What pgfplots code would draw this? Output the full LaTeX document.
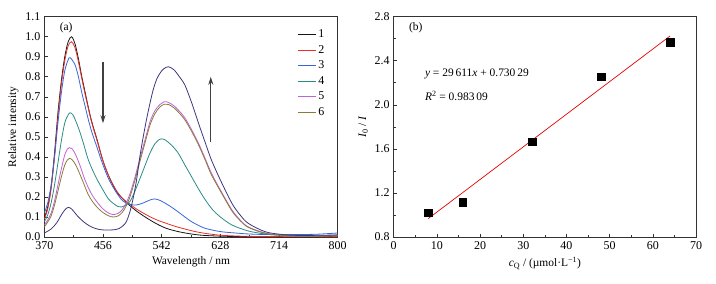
\documentclass[border=0pt]{standalone}
\usepackage{fontspec}
\setmainfont{Liberation Serif}
\usepackage{pgfplots}
\pgfplotsset{compat=1.18}
\usetikzlibrary{arrows.meta}
\definecolor{c1}{RGB}{20,20,20}
\definecolor{c2}{RGB}{235,45,35}
\definecolor{c3}{RGB}{55,100,215}
\definecolor{c4}{RGB}{40,140,135}
\definecolor{c5}{RGB}{195,95,215}
\definecolor{c6}{RGB}{135,125,55}
\definecolor{c7}{RGB}{60,55,125}
\pgfplotsset{
  every axis/.append style={font=\fontsize{11.5}{13}\selectfont},
  myax/.style={
    scale only axis,
    axis line style={black!80, line width=0.8pt},
    tick style={black!80, line width=0.6pt},
    major tick length=3.5pt, minor tick length=2.5pt,
    tick align=inside, tick pos=left,
    /pgf/number format/assume math mode=true,
    ticklabel style={font=\fontsize{12}{14}\selectfont},
    xticklabel style={yshift=-1.5pt},
    yticklabel style={xshift=-0.5pt},
    label style={font=\fontsize{11.5}{13}\selectfont},
  },
}
\begin{document}
\begin{tikzpicture}[x=1bp,y=1bp]
\useasboundingbox (0,0) rectangle (716,283);
\begin{axis}[myax,
  at={(44.3bp,46bp)}, anchor=south west,
  width=293.4bp, height=220.3bp,
  xmin=370, xmax=800, ymin=0, ymax=1.1,
  xtick={370,456,542,628,714,800}, minor x tick num=1,
  ytick={0,0.1,...,1.1},
  yticklabel style={/pgf/number format/.cd, fixed, fixed zerofill, precision=1},
  xlabel={Wavelength / nm}, ylabel={Relative intensity},
  legend style={draw=none, fill=none, at={(axis description cs:0.965,0.955)}, anchor=north east,
     font=\fontsize{12}{14}\selectfont, row sep=2.2pt, inner sep=1pt},
  legend cell align=left,
  legend image code/.code={\draw[#1] (0bp,0bp) -- (18bp,0bp);},
  every axis plot/.append style={line width=0.8pt, smooth, tension=0.5},
  clip=true,
]
\addplot[c1] coordinates {(370,0.095)(375,0.15)(380,0.25)(385,0.42)(390,0.62)(395,0.78)(400,0.90)(405,0.975)(410,1.0)(415,0.965)(420,0.89)(425,0.80)(430,0.72)(435,0.64)(440,0.57)(447,0.49)(456,0.38)(465,0.30)(476,0.225)(485,0.19)(495,0.158)(505,0.13)(520,0.095)(535,0.065)(549,0.043)(565,0.028)(580,0.018)(600,0.009)(630,0.004)(660,0.002)(700,0.001)(760,0.0)(800,0.003)};
\addlegendentry{1}
\addplot[c2] coordinates {(370,0.09)(375,0.14)(380,0.24)(385,0.40)(390,0.60)(395,0.76)(400,0.88)(405,0.955)(410,0.975)(415,0.945)(420,0.875)(425,0.79)(430,0.71)(435,0.635)(440,0.565)(447,0.485)(456,0.38)(465,0.30)(476,0.23)(485,0.192)(495,0.165)(505,0.14)(520,0.11)(535,0.085)(549,0.068)(562,0.053)(576,0.040)(590,0.028)(606,0.018)(628,0.009)(660,0.004)(700,0.002)(760,0.001)(800,0.002)};
\addlegendentry{2}
\addplot[c3] coordinates {(370,0.12)(375,0.17)(380,0.26)(385,0.40)(390,0.57)(395,0.72)(400,0.83)(405,0.885)(408,0.895)(415,0.86)(420,0.80)(425,0.72)(430,0.65)(435,0.58)(440,0.52)(447,0.45)(456,0.36)(465,0.285)(476,0.22)(485,0.18)(495,0.163)(505,0.16)(515,0.17)(525,0.185)(532,0.19)(540,0.182)(549,0.165)(556,0.15)(566,0.126)(576,0.10)(586,0.076)(596,0.058)(606,0.043)(628,0.027)(650,0.02)(670,0.015)(700,0.012)(740,0.012)(770,0.014)(800,0.02)};
\addlegendentry{3}
\addplot[c4] coordinates {(370,0.076)(375,0.11)(380,0.17)(385,0.26)(390,0.37)(395,0.48)(400,0.57)(405,0.61)(408,0.62)(412,0.61)(416,0.58)(422,0.526)(428,0.46)(434,0.39)(440,0.34)(447,0.29)(456,0.235)(464,0.19)(471,0.168)(478,0.152)(483,0.15)(490,0.16)(496,0.18)(503,0.23)(510,0.29)(518,0.36)(525,0.42)(532,0.465)(539,0.488)(542,0.49)(547,0.485)(556,0.46)(566,0.42)(576,0.36)(586,0.30)(596,0.24)(606,0.185)(617,0.135)(628,0.10)(645,0.06)(669,0.03)(694,0.015)(720,0.008)(760,0.005)(800,0.01)};
\addlegendentry{4}
\addplot[c5] coordinates {(370,0.06)(375,0.085)(380,0.12)(385,0.18)(390,0.26)(395,0.34)(400,0.41)(404,0.44)(407,0.446)(411,0.44)(416,0.41)(422,0.36)(428,0.30)(434,0.25)(440,0.21)(447,0.176)(456,0.14)(464,0.12)(471,0.112)(478,0.118)(484,0.135)(490,0.17)(496,0.22)(503,0.30)(510,0.39)(518,0.49)(525,0.576)(532,0.63)(539,0.66)(546,0.675)(552,0.672)(560,0.655)(568,0.628)(576,0.595)(586,0.535)(596,0.468)(606,0.39)(615,0.318)(628,0.235)(645,0.135)(657,0.085)(669,0.05)(694,0.02)(720,0.01)(760,0.005)(800,0.008)};
\addlegendentry{5}
\addplot[c6] coordinates {(370,0.05)(375,0.075)(380,0.105)(385,0.16)(390,0.23)(395,0.30)(400,0.36)(404,0.385)(407,0.393)(411,0.385)(416,0.36)(422,0.315)(428,0.265)(434,0.215)(440,0.18)(447,0.15)(456,0.122)(464,0.106)(471,0.100)(478,0.105)(484,0.122)(490,0.155)(496,0.205)(503,0.285)(510,0.375)(518,0.475)(525,0.56)(532,0.615)(539,0.648)(546,0.663)(552,0.662)(560,0.645)(568,0.618)(576,0.585)(586,0.527)(596,0.46)(606,0.383)(615,0.31)(628,0.23)(645,0.13)(657,0.082)(669,0.048)(694,0.018)(720,0.008)(760,0.004)(800,0.006)};
\addlegendentry{6}
\addplot[c7, forget plot] coordinates {(370,0.02)(380,0.04)(388,0.07)(395,0.11)(400,0.135)(405,0.148)(410,0.14)(415,0.12)(420,0.10)(428,0.075)(435,0.058)(442,0.046)(450,0.038)(458,0.035)(466,0.035)(474,0.037)(480,0.043)(485,0.055)(490,0.075)(495,0.12)(500,0.19)(505,0.28)(510,0.40)(515,0.50)(520,0.59)(525,0.67)(530,0.74)(535,0.79)(540,0.82)(545,0.84)(552,0.85)(560,0.835)(568,0.80)(576,0.759)(586,0.67)(596,0.568)(606,0.47)(615,0.384)(628,0.285)(645,0.168)(657,0.11)(669,0.068)(694,0.026)(720,0.012)(740,0.008)(760,0.008)(780,0.009)(800,0.01)};
\draw[-{Stealth[length=8bp,width=5bp]}, black!75, line width=1.1pt] (axis cs:456,0.875) -- (axis cs:456,0.568);
\draw[-{Stealth[length=8bp,width=5bp]}, black!75, line width=1.1pt] (axis cs:614,0.476) -- (axis cs:614,0.80);
\node[font=\fontsize{11.5}{13}\selectfont] at (axis cs:402,1.043) {(a)};
\end{axis}
\begin{axis}[myax,
  at={(393.7bp,46bp)}, anchor=south west,
  width=302.3bp, height=220.3bp,
  xmin=0, xmax=70, ymin=0.8, ymax=2.8,
  xtick={0,10,...,70}, minor x tick num=1,
  ytick={0.8,1.2,...,2.8}, minor y tick num=1,
  yticklabel style={/pgf/number format/.cd, fixed, fixed zerofill, precision=1},
  xlabel={\textit{c}\textsubscript{Q} / (µmol·L\textsuperscript{−1})},
  ylabel={\textit{I}\textsubscript{0} / \textit{I}},
]
\addplot[red!90!black, line width=0.7pt] coordinates {(8,0.967)(64,2.625)};
\addplot[only marks, mark=square*, mark size=3.8bp, black] coordinates {(8,1.02)(16,1.115)(32,1.665)(48,2.255)(64,2.57)};
\node[font=\fontsize{11.5}{13}\selectfont] at (axis cs:5.1,2.70) {(b)};
\node[anchor=west, inner sep=0pt, font=\fontsize{11.5}{13}\selectfont] at (axis cs:7.2,2.28) {\textit{y} = 29\,611\textit{x} + 0.730\,29};
\node[anchor=west, inner sep=0pt, font=\fontsize{11.5}{13}\selectfont] at (axis cs:7.2,2.08) {\textit{R}\textsuperscript{2} = 0.983\,09};
\end{axis}
\end{tikzpicture}
\end{document}
